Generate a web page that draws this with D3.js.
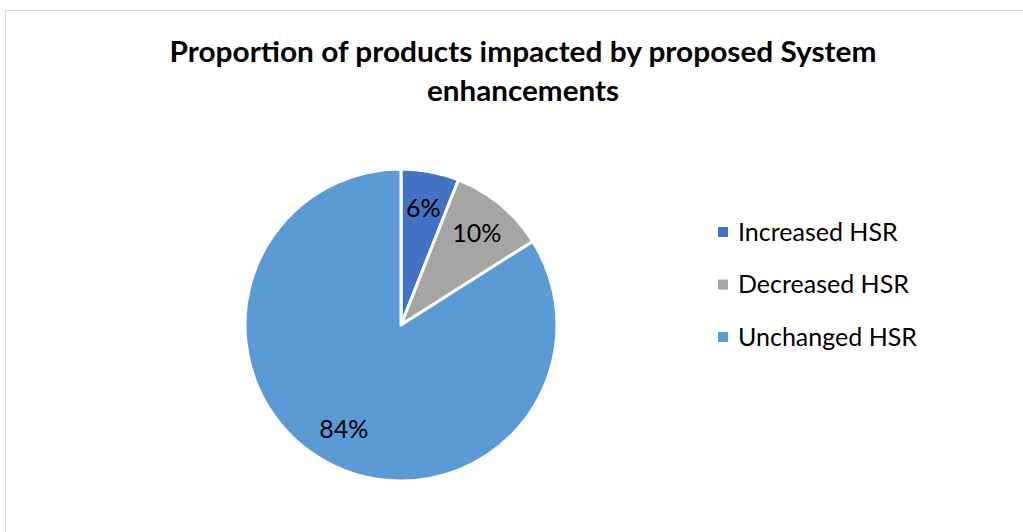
<!DOCTYPE html>
<html>
<head>
<meta charset="utf-8">
<script src="https://cdn.jsdelivr.net/npm/d3@7"></script>
<style>
  html, body { margin: 0; padding: 0; background: #fff; }
  svg { display: block; }
</style>
</head>
<body>
<svg id="chart" width="1023" height="532"></svg>
<script>
// chart data
var categories = ["Increased HSR", "Decreased HSR", "Unchanged HSR"];
var values = [6, 10, 84];
var labels = ["6%", "10%", "84%"];
var colors = ["#4472C4", "#A5A5A5", "#5B9BD5"];
var titleLines = ["Proportion of products impacted by proposed System", "enhancements"];

var svg = d3.select("#chart"),
    width = 1023,
    height = 532;

var font = "Lato, 'Open Sans', sans-serif";

// outer chart border
svg.append("rect")
    .attr("x", 5.5)
    .attr("y", 10.5)
    .attr("width", width + 20)
    .attr("height", height + 20)
    .attr("fill", "#fff")
    .attr("stroke", "#d9d9d9")
    .attr("stroke-width", 1);

// title
var title = svg.append("g");
title.selectAll("text")
    .data(titleLines)
    .enter().append("text")
    .attr("x", 523)
    .attr("y", function (d, i) { return 62 + i * 39; })
    .attr("text-anchor", "middle")
    .attr("font-family", font)
    .attr("font-weight", "bold")
    .attr("font-size", 29)
    .attr("fill", "#000")
    .text(function (d) { return d; });

// fit the title lines to the widths they have in the original
title.selectAll("text").each(function (d, i) {
    var target = i === 0 ? 707 : 192;
    d3.select(this).attr("textLength", target).attr("lengthAdjust", "spacingAndGlyphs");
});

// pie
var cx = 401, cy = 325, radius = 156;

var pie = d3.pie()
    .sort(null)
    .value(function (d) { return d; });

var arc = d3.arc()
    .innerRadius(0)
    .outerRadius(radius);

var labelArc = d3.arc()
    .innerRadius(119)
    .outerRadius(119);

var g = svg.append("g")
    .attr("transform", "translate(" + cx + "," + cy + ")");

var arcs = pie(values);

g.selectAll("path")
    .data(arcs)
    .enter().append("path")
    .attr("d", arc)
    .attr("fill", function (d, i) { return colors[i]; })
    .attr("stroke", "#fff")
    .attr("stroke-width", 3)
    .attr("stroke-linejoin", "round");

g.selectAll("text.lbl")
    .data(arcs)
    .enter().append("text")
    .attr("class", "lbl")
    .attr("transform", function (d) {
        var c = labelArc.centroid(d);
        return "translate(" + c[0] + "," + c[1] + ")";
    })
    .attr("text-anchor", "middle")
    .attr("dy", "0.35em")
    .attr("font-family", font)
    .attr("font-size", 25)
    .attr("fill", "#000")
    .text(function (d, i) { return labels[i]; });

// legend
var legend = svg.append("g")
    .attr("transform", "translate(718,232)");

var item = legend.selectAll("g")
    .data(categories)
    .enter().append("g")
    .attr("transform", function (d, i) { return "translate(0," + i * 52.5 + ")"; });

item.append("rect")
    .attr("x", 0)
    .attr("y", -5)
    .attr("width", 10)
    .attr("height", 10)
    .attr("fill", function (d, i) { return colors[i]; });

item.append("text")
    .attr("x", 20)
    .attr("dy", "0.35em")
    .attr("font-family", font)
    .attr("font-size", 25)
    .attr("fill", "#000")
    .text(function (d) { return d; });
</script>
</body>
</html>
